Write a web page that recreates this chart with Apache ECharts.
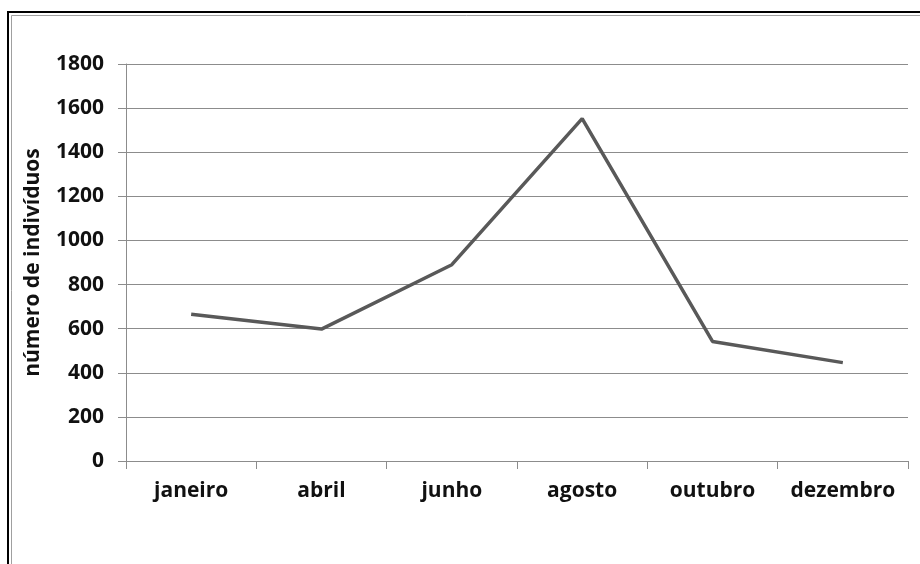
<!DOCTYPE html>
<html>
<head>
<meta charset="utf-8">
<script src="https://cdn.jsdelivr.net/npm/echarts@6/dist/echarts.min.js"></script>
<style>
html,body{margin:0;padding:0;background:#fff;}
#chart{width:920px;height:564px;}
</style>
</head>
<body>
<div id="chart"></div>
<script>
const categories = ['janeiro', 'abril', 'junho', 'agosto', 'outubro', 'dezembro'];
const individuos = [665, 598, 890, 1552, 542, 446];
const yAxisTitle = 'número de indivíduos';

const chart = echarts.init(document.getElementById('chart'));
const font = '"Open Sans", "Liberation Sans", sans-serif';
chart.setOption({
  animation: false,
  backgroundColor: '#ffffff',
  graphic: [
    { type: 'polyline', shape: { points: [[8, 600], [8, 12], [930, 12]] }, style: { stroke: '#000', lineWidth: 2, fill: null }, silent: true },
    { type: 'polyline', shape: { points: [[11.5, 600], [11.5, 15.5], [930, 15.5]] }, style: { stroke: '#a0a0a0', lineWidth: 1, fill: null }, silent: true }
  ],
  grid: { left: 126, right: 12, top: 64, bottom: 103, containLabel: false },
  xAxis: {
    type: 'category',
    data: categories,
    boundaryGap: true,
    axisLine: { lineStyle: { color: '#8c8c8c', width: 1 } },
    axisTick: { show: true, length: 8, interval: 0, lineStyle: { color: '#8c8c8c' } },
    axisLabel: { color: '#111', fontFamily: font, fontWeight: 'bold', fontSize: 21, margin: 20, interval: 0 },
    splitLine: { show: false }
  },
  yAxis: {
    type: 'value',
    min: 0, max: 1800, interval: 200,
    name: yAxisTitle,
    nameLocation: 'middle',
    nameGap: 82,
    nameRotate: 90,
    nameTextStyle: { color: '#111', fontFamily: font, fontWeight: 'bold', fontSize: 21 },
    axisLine: { show: true, lineStyle: { color: '#8c8c8c', width: 1 } },
    axisTick: { show: true, length: 8, lineStyle: { color: '#8c8c8c' } },
    axisLabel: { color: '#111', fontFamily: font, fontWeight: 'bold', fontSize: 21, margin: 22, formatter: v => String(v) },
    splitLine: { show: true, lineStyle: { color: '#8c8c8c', width: 1 } }
  },
  series: [{
    type: 'line',
    data: individuos,
    symbol: 'none',
    lineStyle: { color: '#595959', width: 3.5 },
    itemStyle: { color: '#595959' }
  }]
});
</script>
</body>
</html>
